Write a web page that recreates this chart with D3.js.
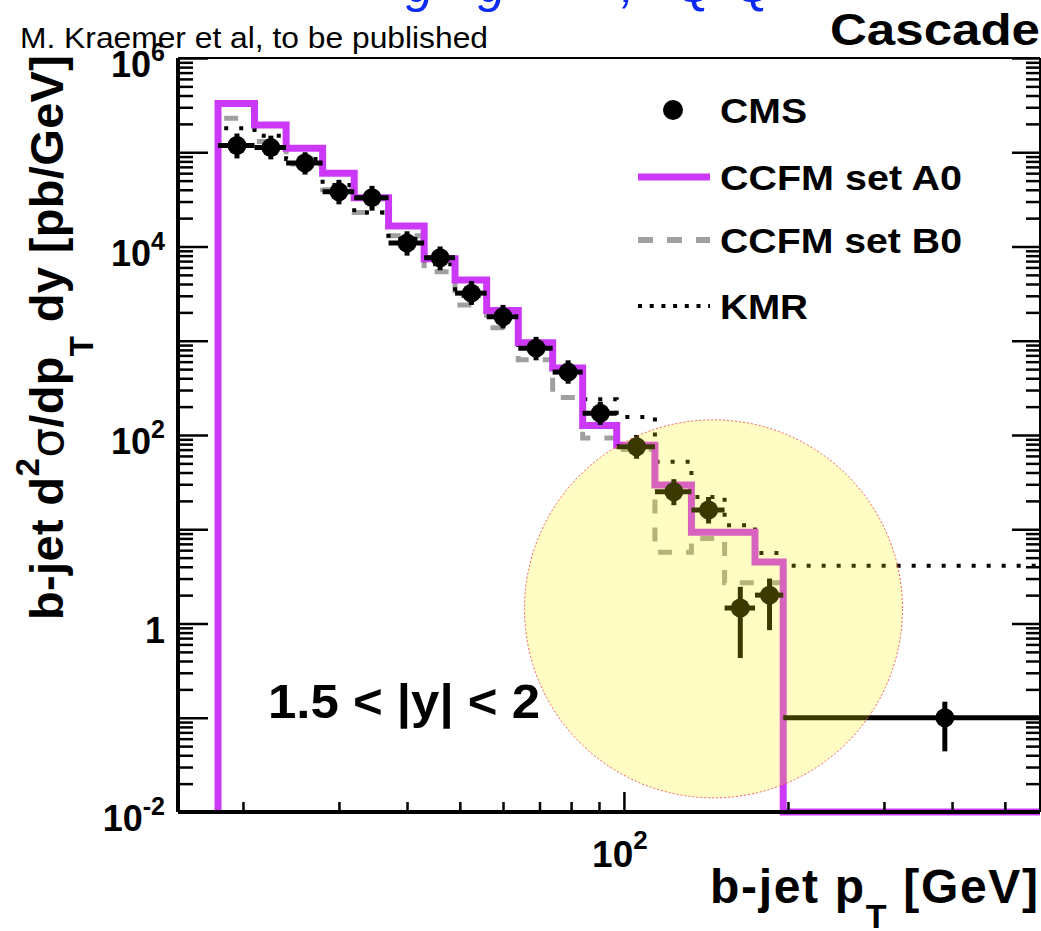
<!DOCTYPE html>
<html>
<head>
<meta charset="utf-8">
<script src="https://cdn.jsdelivr.net/npm/d3@7"></script>
<style>
  html, body { margin: 0; padding: 0; background: #fff; }
  svg { display: block; }
  text { font-family: "Liberation Sans", Arial, sans-serif; }
</style>
</head>
<body>
<div id="chart"></div>
<script>
// bin edges in GeV (last bin runs to the end of the axis)
const binEdges = [18, 21, 24, 28, 32, 37, 43, 49, 56, 64, 74, 84, 97, 114, 133, 153, 174, 196, 580];

// CMS data points, pb/GeV
const cmsValues  = [1.18e5, 1.12e5, 7.7e4, 3.8e4, 3.3e4, 1.09e4, 7.6e3, 3.2e3, 1.8e3, 835, 465, 170, 75, 25, 16, 1.46, 2.0, 0.1];
const cmsErrLow  = [8.6e4, 8.4e4, 5.8e4, 2.8e4, 2.4e4, 8.0e3, 5.6e3, 2.4e3, 1.35e3, 620, 350, 128, 56, 18, 11.5, 0.43, 0.85, 0.044];
const cmsErrHigh = [1.58e5, 1.5e5, 1.0e5, 5.1e4, 4.4e4, 1.45e4, 1.0e4, 4.3e3, 2.4e3, 1100, 620, 225, 100, 34, 22, 2.45, 3.0, 0.148];

// predictions per bin (0 = empty bin)
const ccfmA0 = [3.3e5, 1.95e5, 1.1e5, 6.0e4, 3.3e4, 1.65e4, 7.4e3, 4.4e3, 2.1e3, 950, 515, 126, 78, 29.5, 9.3, 9.3, 4.5, 0];
const ccfmB0 = [2.3e5, 1.3e5, 7.5e4, 4.0e4, 2.3e4, 1.3e4, 5.4e3, 2.4e3, 1.37e3, 630, 250, 93, 70, 5.7, 8.0, 2.7, 2.7, 0];
const kmr    = [1.8e5, 1.5e5, 8.5e4, 4.5e4, 2.3e4, 1.2e4, 6.5e3, 3.0e3, 2.0e3, 900, 500, 240, 155, 52, 22, 11, 5.6, 4.1];

// axis ticks
const yMajorTicks = [1e-2, 1e-1, 1, 1e1, 1e2, 1e3, 1e4, 1e5, 1e6];
const yLabelTicks = [{v: 1e6, e: "6"}, {v: 1e4, e: "4"}, {v: 1e2, e: "2"}, {v: 1, e: null}, {v: 1e-2, e: "-2"}];
const xMajorTicks = [100];
const xMinorTicks = [20, 30, 40, 50, 60, 70, 80, 90, 200, 300, 400, 500];
const xLabelTicks = [{v: 100, e: "2"}];

// highlighted region (centre in data units, radius in px)
const highlight = {pt: 146, value: 1.43, r: 189};

const W = 1041, H = 931;
const margin = { top: 58, right: 1, bottom: 119, left: 178 };
const width = W - margin.left - margin.right;
const height = H - margin.top - margin.bottom;

const svg = d3.select("#chart").append("svg")
    .attr("width", W)
    .attr("height", H);

const x = d3.scaleLog().domain([15.2, 580]).range([0, width]);
const y = d3.scaleLog().domain([1e-2, 1e6]).range([height, 0]);

//minor y ticks: 2..9 in every decade
const yMinorTicks = [];
for (let d = -2; d < 6; d++) {
    for (let k = 2; k <= 9; k++) yMinorTicks.push(k * Math.pow(10, d));
}

const yv = v => v > 0 ? y(v) : height;

const plot = svg.append("g")
    .attr("transform", `translate(${margin.left},${margin.top})`);

plot.append("clipPath").attr("id", "clip")
  .append("rect")
    .attr("x", 0).attr("y", 0)
    .attr("width", width).attr("height", height + 5);

const area = plot.append("g").attr("clip-path", "url(#clip)");

//histogram outline from the bottom of the first bin edge
function histPoints(values) {
    const pts = [[x(binEdges[0]), height]];
    values.forEach((v, i) => {
        pts.push([x(binEdges[i]), yv(v)]);
        pts.push([x(binEdges[i + 1]), yv(v)]);
    });
    return pts;
}
const line = d3.line();

area.append("path")
    .attr("d", line(histPoints(ccfmB0)))
    .attr("fill", "none")
    .attr("stroke", "#a0a0a0")
    .attr("stroke-width", 5)
    .attr("stroke-dasharray", "14,14");

area.append("path")
    .attr("d", line(histPoints(kmr)))
    .attr("fill", "none")
    .attr("stroke", "#000")
    .attr("stroke-width", 4)
    .attr("stroke-dasharray", "4,11");

area.append("path")
    .attr("d", line(histPoints(ccfmA0)))
    .attr("fill", "none")
    .attr("stroke", "#cc38f8")
    .attr("stroke-width", 7)
    .attr("stroke-linejoin", "miter");

//CMS points with bin-width horizontal bars
const cms = cmsValues.map((v, i) => ({
    lo: binEdges[i], hi: binEdges[i + 1],
    c: (binEdges[i] + binEdges[i + 1]) / 2,
    v: v, eLo: cmsErrLow[i], eHi: cmsErrHigh[i]
}));

const pts = area.append("g").selectAll("g")
    .data(cms)
    .join("g");

pts.append("line")
    .attr("x1", d => x(d.lo)).attr("x2", d => x(d.hi))
    .attr("y1", d => y(d.v)).attr("y2", d => y(d.v))
    .attr("stroke", "#000").attr("stroke-width", 5);

pts.append("line")
    .attr("x1", d => x(d.c)).attr("x2", d => x(d.c))
    .attr("y1", d => y(d.eHi)).attr("y2", d => y(d.eLo))
    .attr("stroke", "#000").attr("stroke-width", 5);

pts.append("circle")
    .attr("cx", d => x(d.c)).attr("cy", d => y(d.v))
    .attr("r", 9.5)
    .attr("fill", "#000");

//ticks: left & right point into the plot, bottom points up
function styleTicks(sel) {
    sel.select(".domain").remove();
    sel.selectAll(".tick line").attr("stroke", "#000").attr("stroke-width", 2.5);
}

plot.append("g")
    .call(d3.axisRight(y).tickValues(yMajorTicks).tickSize(30).tickSizeOuter(0).tickFormat(""))
    .call(styleTicks);
plot.append("g")
    .call(d3.axisRight(y).tickValues(yMinorTicks).tickSize(15).tickSizeOuter(0).tickFormat(""))
    .call(styleTicks);

plot.append("g")
    .attr("transform", `translate(${width},0)`)
    .call(d3.axisLeft(y).tickValues(yMajorTicks).tickSize(28).tickSizeOuter(0).tickFormat(""))
    .call(styleTicks);
plot.append("g")
    .attr("transform", `translate(${width},0)`)
    .call(d3.axisLeft(y).tickValues(yMinorTicks).tickSize(14).tickSizeOuter(0).tickFormat(""))
    .call(styleTicks);

plot.append("g")
    .attr("transform", `translate(0,${height})`)
    .call(d3.axisTop(x).tickValues(xMajorTicks).tickSize(20).tickSizeOuter(0).tickFormat(""))
    .call(styleTicks);
plot.append("g")
    .attr("transform", `translate(0,${height})`)
    .call(d3.axisTop(x).tickValues(xMinorTicks).tickSize(10).tickSizeOuter(0).tickFormat(""))
    .call(styleTicks);

//frame
const frame = [
    [0, 0, 0, height, 4],
    [0, height, width, height, 4],
    [0, 0, width, 0, 2],
    [width, 0, width, height, 2]
];
plot.append("g").selectAll("line")
    .data(frame)
    .join("line")
      .attr("x1", d => d[0]).attr("y1", d => d[1])
      .attr("x2", d => d[2]).attr("y2", d => d[3])
      .attr("stroke", "#000")
      .attr("stroke-width", d => d[4]);

//tick labels
const yLab = plot.append("g")
    .attr("font-weight", "bold")
    .attr("font-size", 36)
    .attr("text-anchor", "end")
    .selectAll("text")
    .data(yLabelTicks)
    .join("text")
      .attr("x", -13)
      .attr("y", d => y(d.v) + 19);
yLab.append("tspan").text(d => d.e === null ? "1" : "10");
yLab.filter(d => d.e !== null).append("tspan")
    .attr("dy", -16)
    .attr("font-size", 25)
    .text(d => d.e);

const xLab = plot.append("g")
    .attr("font-weight", "bold")
    .attr("font-size", 37)
    .attr("text-anchor", "middle")
    .selectAll("text")
    .data(xLabelTicks)
    .join("text")
      .attr("x", d => x(d.v) - 4)
      .attr("y", height + 55);
xLab.append("tspan").text("10");
xLab.append("tspan").attr("dy", -18).attr("font-size", 26).text(d => d.e);

//highlight circle on top
plot.append("circle")
    .attr("cx", x(highlight.pt))
    .attr("cy", y(highlight.value))
    .attr("r", highlight.r)
    .attr("fill", "rgba(255,240,0,0.23)")
    .attr("stroke", "#f05a5a")
    .attr("stroke-width", 1)
    .attr("stroke-dasharray", "2,2");

//axis titles
const yTitle = svg.append("text")
    .attr("transform", "translate(63,620) rotate(-90)")
    .attr("font-size", 47)
    .attr("font-weight", "bold")
    .attr("textLength", 565)
    .attr("lengthAdjust", "spacing");
yTitle.append("tspan").text("b-jet d");
yTitle.append("tspan").attr("dy", -24).attr("font-size", 33).text("2");
yTitle.append("tspan").attr("dy", 24).attr("font-weight", "normal")
    .style("font-family", "'DejaVu Sans', sans-serif").text("σ");
yTitle.append("tspan").text("/dp");
yTitle.append("tspan").attr("dy", 30).attr("font-size", 33).text("T");
yTitle.append("tspan").attr("dy", -30).text("\u00a0dy [pb/GeV]");

const xTitle = svg.append("text")
    .attr("x", 710)
    .attr("y", 903)
    .attr("font-size", 48)
    .attr("font-weight", "bold")
    .attr("textLength", 328)
    .attr("lengthAdjust", "spacing");
xTitle.append("tspan").text("b-jet p");
xTitle.append("tspan").attr("dy", 25).attr("font-size", 34).text("T");
xTitle.append("tspan").attr("dy", -25).text("\u00a0[GeV]");

//annotations
svg.append("text")
    .attr("x", 268).attr("y", 718)
    .attr("font-size", 48).attr("font-weight", "bold")
    .attr("textLength", 272).attr("lengthAdjust", "spacingAndGlyphs")
    .text("1.5 < |y| < 2");

svg.append("text")
    .attr("x", 830).attr("y", 45)
    .attr("font-size", 44).attr("font-weight", "bold")
    .attr("textLength", 210).attr("lengthAdjust", "spacingAndGlyphs")
    .text("Cascade");

svg.append("text")
    .attr("x", 20).attr("y", 48)
    .attr("font-size", 29)
    .attr("textLength", 468).attr("lengthAdjust", "spacingAndGlyphs")
    .text("M. Kraemer et al, to be published");

//slide title cut off at the top edge
const titleBits = [
    {t: "g", x: 406}, {t: "g", x: 478}, {t: ",", x: 621}, {t: "Q", x: 676}, {t: "Q", x: 735}
];
svg.append("g")
    .attr("font-size", 50)
    .attr("font-style", "italic")
    .attr("fill", "#0b2bf5")
    .style("font-family", "'Liberation Serif', 'DejaVu Serif', serif")
    .selectAll("text")
    .data(titleBits)
    .join("text")
      .attr("x", d => d.x)
      .attr("y", 2)
      .text(d => d.t);

//legend
const legendItems = [
    {label: "CMS", y: 110, len: 87, kind: "point"},
    {label: "CCFM set A0", y: 177, len: 242, kind: "A0"},
    {label: "CCFM set B0", y: 240, len: 242, kind: "B0"},
    {label: "KMR", y: 306, len: 88, kind: "KMR"}
];
const legend = svg.append("g")
    .selectAll("g")
    .data(legendItems)
    .join("g");

legend.filter(d => d.kind === "point").append("circle")
    .attr("cx", 673).attr("cy", d => d.y).attr("r", 10).attr("fill", "#000");

legend.filter(d => d.kind !== "point").append("line")
    .attr("x1", 638).attr("x2", 710)
    .attr("y1", d => d.y).attr("y2", d => d.y)
    .attr("stroke", d => d.kind === "A0" ? "#cc38f8" : d.kind === "B0" ? "#a0a0a0" : "#000")
    .attr("stroke-width", d => d.kind === "A0" ? 7 : d.kind === "B0" ? 6 : 4)
    .attr("stroke-dasharray", d => d.kind === "B0" ? "15,14" : d.kind === "KMR" ? "4,7.7" : null);

legend.append("text")
    .attr("x", 720)
    .attr("y", d => d.y + 13)
    .attr("font-size", 35)
    .attr("font-weight", "bold")
    .attr("textLength", d => d.len)
    .attr("lengthAdjust", "spacingAndGlyphs")
    .text(d => d.label);
</script>
</body>
</html>
